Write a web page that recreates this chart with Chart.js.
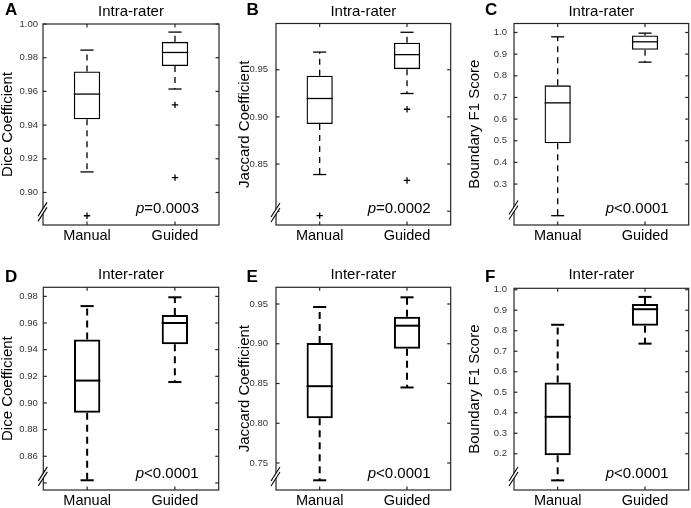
<!DOCTYPE html>
<html>
  <head>
    <title>Box plots - manual vs guided</title>
    <script src="https://cdn.jsdelivr.net/npm/chart.js@4.4.0/dist/chart.umd.min.js"></script>
    <style>
      body { margin: 0; background: #fff; }
      #grid { position: relative; width: 691px; height: 508px; }
      #grid canvas { position: absolute; }
    </style>
  </head>
  <body>
    <div id="grid">
      <canvas id="pA" width="230" height="254" style="left:0;top:0"></canvas>
      <canvas id="pB" width="230" height="254" style="left:230px;top:0"></canvas>
      <canvas id="pC" width="231" height="254" style="left:460px;top:0"></canvas>
      <canvas id="pD" width="230" height="254" style="left:0;top:254px"></canvas>
      <canvas id="pE" width="230" height="254" style="left:230px;top:254px"></canvas>
      <canvas id="pF" width="231" height="254" style="left:460px;top:254px"></canvas>
    </div>
    <script>
      const categories = ['Manual', 'Guided'];

      // box stats: [lower whisker, Q1, median, Q3, upper whisker]
      const intraDiceManual = [0.9122, 0.9435, 0.9584, 0.9718, 0.9845];
      const intraDiceGuided = [0.9614, 0.9751, 0.9831, 0.9894, 0.9952];
      const intraDiceOutliers = [[0.8862], [0.952, 0.9088]];
      const intraJaccardManual = [0.8389, 0.8925, 0.9195, 0.9436, 0.9687];
      const intraJaccardGuided = [0.9248, 0.9506, 0.966, 0.9787, 0.9897];
      const intraJaccardOutliers = [[0.7953], [0.9081, 0.8326]];
      const intraBfManual = [0.154, 0.488, 0.675, 0.756, 0.98];
      const intraBfGuided = [0.863, 0.92, 0.957, 0.986, 0.997];
      const interDiceManual = [0.842, 0.8927, 0.9168, 0.9477, 0.9727];
      const interDiceGuided = [0.9157, 0.944, 0.96, 0.966, 0.9793];
      const interJaccardManual = [0.7282, 0.8063, 0.8466, 0.9009, 0.9462];
      const interJaccardGuided = [0.845, 0.8937, 0.9227, 0.934, 0.9584];
      const interBfManual = [0.07, 0.192, 0.38, 0.547, 0.829];
      const interBfGuided = [0.737, 0.824, 0.905, 0.93, 0.965];

      // y ticks and their labels ('' = tick without label)
      const intraDiceTicks = [0.9, 0.92, 0.94, 0.96, 0.98, 1.0];
      const intraDiceLabels = ['0.90', '0.92', '0.94', '0.96', '0.98', '1.00'];
      const intraJaccardTicks = [0.8, 0.85, 0.9, 0.95];
      const intraJaccardLabels = ['', '0.85', '0.90', '0.95'];
      const bfIntraTicks = [0.3, 0.4, 0.5, 0.6, 0.7, 0.8, 0.9, 1.0];
      const bfIntraLabels = ['0.3', '0.4', '0.5', '0.6', '0.7', '0.8', '0.9', '1.0'];
      const interDiceTicks = [0.84, 0.86, 0.88, 0.9, 0.92, 0.94, 0.96, 0.98];
      const interDiceLabels = ['', '0.86', '0.88', '0.90', '0.92', '0.94', '0.96', '0.98'];
      const interJaccardTicks = [0.75, 0.8, 0.85, 0.9, 0.95];
      const interJaccardLabels = ['0.75', '0.80', '0.85', '0.90', '0.95'];
      const bfInterTicks = [0.2, 0.3, 0.4, 0.5, 0.6, 0.7, 0.8, 0.9, 1.0];
      const bfInterLabels = ['0.2', '0.3', '0.4', '0.5', '0.6', '0.7', '0.8', '0.9', '1.0'];

      const pValues = ['=0.0003', '=0.0002', '<0.0001', '<0.0001', '<0.0001', '<0.0001'];

      const FONT = '"Liberation Sans", Arial, Helvetica, sans-serif';
      Chart.defaults.font.family = FONT;
      Chart.defaults.color = '#000';

      const panels = [
        { id: 'pA', letter: 'A', lx: 5, title: 'Intra-rater', yTitle: 'Dice Coefficient',
          stats: [intraDiceManual, intraDiceGuided], outliers: intraDiceOutliers,
          ticks: intraDiceTicks, labels: intraDiceLabels, min: 0.8807, max: 1.0, breakAt: 0.8885,
          row: 0, padLeft: 0, yWidth: 43, padRight: 11, top: 24, tickPad: 5 },
        { id: 'pB', letter: 'B', lx: 16.5, title: 'Intra-rater', yTitle: 'Jaccard Coefficient',
          stats: [intraJaccardManual, intraJaccardGuided], outliers: intraJaccardOutliers,
          ticks: intraJaccardTicks, labels: intraJaccardLabels, min: 0.7854, max: 0.999, breakAt: 0.7987,
          row: 0, padLeft: 7.5, yWidth: 38.5, padRight: 9.3, top: 23.5, tickPad: 8 },
        { id: 'pC', letter: 'C', lx: 25, title: 'Intra-rater', yTitle: 'Boundary F1 Score',
          stats: [intraBfManual, intraBfGuided], outliers: [[], []],
          ticks: bfIntraTicks, labels: bfIntraLabels, min: 0.111, max: 1.0415, breakAt: 0.18,
          row: 0, padLeft: 7.5, yWidth: 46.5, padRight: 2.3, top: 23.5, tickPad: 7 },
        { id: 'pD', letter: 'D', lx: 5, title: 'Inter-rater', yTitle: 'Dice Coefficient',
          stats: [interDiceManual, interDiceGuided], outliers: [[], []],
          ticks: interDiceTicks, labels: interDiceLabels, min: 0.8347, max: 0.9868, breakAt: 0.8449,
          row: 1, padLeft: 0, yWidth: 43.3, padRight: 11.3, top: 33.3, tickPad: 5.5 },
        { id: 'pE', letter: 'E', lx: 16.5, title: 'Inter-rater', yTitle: 'Jaccard Coefficient',
          stats: [interJaccardManual, interJaccardGuided], outliers: [[], []],
          ticks: interJaccardTicks, labels: interJaccardLabels, min: 0.716, max: 0.971, breakAt: 0.733,
          row: 1, padLeft: 7.5, yWidth: 38.5, padRight: 9.3, top: 33.3, tickPad: 8 },
        { id: 'pF', letter: 'F', lx: 25, title: 'Inter-rater', yTitle: 'Boundary F1 Score',
          stats: [interBfManual, interBfGuided], outliers: [[], []],
          ticks: bfInterTicks, labels: bfInterLabels, min: 0.023, max: 1.007, breakAt: 0.089,
          row: 1, padLeft: 7.5, yWidth: 46.5, padRight: 2.3, top: 34.3, tickPad: 7 },
      ];

      function seg(ctx, x1, y1, x2, y2) {
        ctx.beginPath();
        ctx.moveTo(x1, y1);
        ctx.lineTo(x2, y2);
        ctx.stroke();
      }

      // whiskers, caps, medians, frame, inward ticks, axis break, letter, p-value
      const boxDecor = {
        id: 'boxDecor',
        afterDatasetsDraw(chart, args, o) {
          const ctx = chart.ctx;
          const y = chart.scales.y;
          const bars = chart.getDatasetMeta(0).data;
          ctx.save();
          ctx.strokeStyle = '#000';
          ctx.lineWidth = o.lineWidth;
          o.stats.forEach((s, i) => {
            const bar = bars[i];
            const cx = bar.x, half = bar.width / 2, cap = bar.width * 0.25;
            ctx.setLineDash(o.dash);
            seg(ctx, cx, y.getPixelForValue(s[3]), cx, y.getPixelForValue(s[4]));
            seg(ctx, cx, y.getPixelForValue(s[1]), cx, y.getPixelForValue(s[0]));
            ctx.setLineDash([]);
            seg(ctx, cx - cap, y.getPixelForValue(s[4]), cx + cap, y.getPixelForValue(s[4]));
            seg(ctx, cx - cap, y.getPixelForValue(s[0]), cx + cap, y.getPixelForValue(s[0]));
            seg(ctx, cx - half, y.getPixelForValue(s[2]), cx + half, y.getPixelForValue(s[2]));
          });
          ctx.restore();
        },
        afterDraw(chart, args, o) {
          const ctx = chart.ctx;
          const a = chart.chartArea;
          const x = chart.scales.x, y = chart.scales.y;
          ctx.save();
          ctx.strokeStyle = '#262626';
          ctx.lineWidth = 1.2;
          ctx.strokeRect(a.left, a.top, a.right - a.left, a.bottom - a.top);
          const tl = 3.5;
          y.ticks.forEach(t => {
            const py = y.getPixelForValue(t.value);
            seg(ctx, a.left, py, a.left + tl, py);
            seg(ctx, a.right, py, a.right - tl, py);
          });
          categories.forEach((c, i) => {
            const px = x.getPixelForValue(i);
            seg(ctx, px, a.bottom, px, a.bottom - tl);
            seg(ctx, px, a.top, px, a.top + tl);
          });
          // axis break
          const by = y.getPixelForValue(o.breakAt), bx = a.left;
          ctx.fillStyle = '#fff';
          ctx.beginPath();
          ctx.moveTo(bx - 5, by + 4.5);
          ctx.lineTo(bx + 4, by - 9.5);
          ctx.lineTo(bx + 4, by - 4.5);
          ctx.lineTo(bx - 5, by + 9.5);
          ctx.closePath();
          ctx.fill();
          ctx.strokeStyle = '#000';
          ctx.lineWidth = 1.1;
          seg(ctx, bx - 5, by + 4.5, bx + 4, by - 9.5);
          seg(ctx, bx - 5, by + 9.5, bx + 4, by - 4.5);
          // panel letter
          ctx.fillStyle = '#000';
          ctx.textBaseline = 'alphabetic';
          ctx.textAlign = 'left';
          ctx.font = 'bold 17px ' + FONT;
          ctx.fillText(o.letter, o.letterX, o.letterY);
          // p-value, italic p
          ctx.font = '15px ' + FONT;
          const rest = o.pText;
          const restW = ctx.measureText(rest).width;
          const right = a.right - 20, base = a.bottom - 12;
          ctx.fillText(rest, right - restW, base);
          ctx.font = 'italic 15px ' + FONT;
          const pW = ctx.measureText('p').width;
          ctx.fillText('p', right - restW - pW, base);
          ctx.restore();
        }
      };

      window.onload = function () {
        panels.forEach((p, k) => {
          const lw = p.row === 0 ? 1.3 : 2;
          const outlierPoints = [];
          p.outliers.forEach((list, i) => list.forEach(v => outlierPoints.push({ x: categories[i], y: v })));
          const titlePadTop = p.row === 0 ? 3 : 11.7;
          new Chart(document.getElementById(p.id), {
            data: {
              labels: categories,
              datasets: [
                {
                  type: 'bar',
                  data: p.stats.map(s => [s[1], s[3]]),
                  backgroundColor: 'rgba(0,0,0,0)',
                  borderColor: '#000',
                  borderWidth: lw,
                  borderSkipped: false,
                  barPercentage: 0.3,
                  categoryPercentage: 1,
                },
                {
                  type: 'line',
                  data: outlierPoints,
                  showLine: false,
                  pointStyle: 'cross',
                  pointRadius: 3.2,
                  pointBorderWidth: 1.3,
                  pointBorderColor: '#000',
                },
              ],
            },
            options: {
              responsive: false,
              animation: false,
              layout: { padding: { left: p.padLeft, right: p.padRight, top: 0, bottom: 0 } },
              plugins: {
                legend: { display: false },
                tooltip: { enabled: false },
                title: {
                  display: true,
                  text: p.title,
                  fullSize: false,
                  color: '#000',
                  font: { size: 15, weight: 'normal', lineHeight: 1.2 },
                  padding: { top: titlePadTop, bottom: p.top - titlePadTop - 18 },
                },
                boxDecor: {
                  stats: p.stats,
                  lineWidth: lw,
                  dash: p.row === 0 ? [6, 5] : [7, 5],
                  breakAt: p.breakAt,
                  letter: p.letter,
                  letterX: p.lx,
                  letterY: p.row === 0 ? 15 : 27.5,
                  pText: pValues[k],
                },
              },
              scales: {
                x: {
                  type: 'category',
                  offset: true,
                  grid: { display: false, drawTicks: false },
                  border: { display: false },
                  ticks: { color: '#000', font: { size: 14.5 }, padding: 2, maxRotation: 0 },
                  afterFit: s => { s.height = p.row === 0 ? 29 : 18; },
                },
                y: {
                  type: 'linear',
                  min: p.min,
                  max: p.max,
                  grid: { display: false, drawTicks: false },
                  border: { display: false },
                  afterBuildTicks: s => { s.ticks = p.ticks.map(v => ({ value: v })); },
                  ticks: {
                    autoSkip: false,
                    color: '#333',
                    font: { size: 9.5 },
                    padding: p.tickPad,
                    callback: (v, i) => p.labels[i],
                  },
                  title: {
                    display: true,
                    text: p.yTitle,
                    color: '#000',
                    font: { size: 15, lineHeight: 1 },
                    padding: 0,
                  },
                  afterFit: s => { s.width = p.yWidth; },
                },
              },
            },
            plugins: [boxDecor],
          });
        });
      };
    </script>
  </body>
</html>
